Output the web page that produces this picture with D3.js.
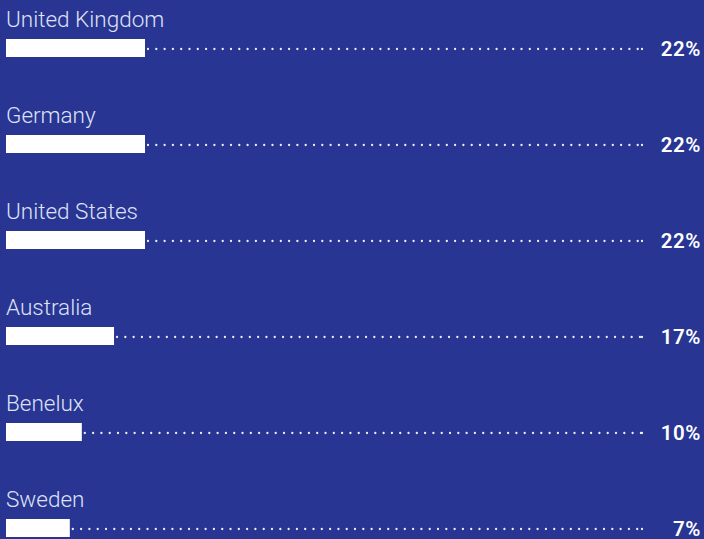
<!DOCTYPE html>
<html>
<head>
<meta charset="utf-8">
<script src="https://cdn.jsdelivr.net/npm/d3@7"></script>
<style>
  html, body { margin: 0; padding: 0; background: #283593; }
  svg { display: block; }
</style>
</head>
<body>
<svg width="704" height="539"></svg>
<script>
// data
const countries = ['United Kingdom', 'Germany', 'United States', 'Australia', 'Benelux', 'Sweden']
const shares = [22, 22, 22, 17, 10, 7]            // printed labels
const barShares = [22, 22, 22, 17.1, 12, 10.1]    // bar lengths as drawn

const W = 704, H = 539
const bg = '#283593'
const svg = d3.select('svg')

svg.append('rect').attr('width', W).attr('height', H).attr('fill', bg)

const y = d3.scaleBand().domain(countries).range([0, 576])
const x = d3.scaleLinear().domain([0, 22]).range([6, 145])
const dotEnd = 642

const rows = svg.selectAll('g.row')
  .data(countries.map((c, i) => ({ c, v: shares[i], b: barShares[i] })))
  .join('g')
  .attr('class', 'row')
  .attr('transform', d => `translate(0, ${y(d.c)})`)

rows.append('text')
  .attr('x', 6)
  .attr('y', 26.5)
  .attr('fill', '#dfe1f4')
  .attr('font-family', 'Roboto, sans-serif')
  .attr('font-weight', 300)
  .attr('font-size', 22.5)
  .text(d => d.c)

rows.append('rect')
  .attr('x', x(0))
  .attr('y', 39)
  .attr('width', d => x(d.b) - x(0))
  .attr('height', 18)
  .attr('fill', '#fff')

// dotted leader
rows.append('line')
  .attr('x1', d => x(d.b) + 3)
  .attr('x2', dotEnd)
  .attr('y1', 49)
  .attr('y2', 49)
  .attr('stroke', '#eef0fa')
  .attr('stroke-width', 2.3)
  .attr('stroke-linecap', 'round')
  .attr('stroke-dasharray', '0 8.3')

rows.append('circle')
  .attr('cx', dotEnd)
  .attr('cy', 49)
  .attr('r', 1.15)
  .attr('fill', '#eef0fa')

rows.append('text')
  .attr('x', 701)
  .attr('y', 56)
  .attr('text-anchor', 'end')
  .attr('fill', '#fff')
  .attr('font-family', 'Roboto, sans-serif')
  .attr('font-weight', 600)
  .attr('font-size', 20.5)
  .attr('letter-spacing', 0.6)
  .text(d => d.v + '%')
</script>
</body>
</html>
